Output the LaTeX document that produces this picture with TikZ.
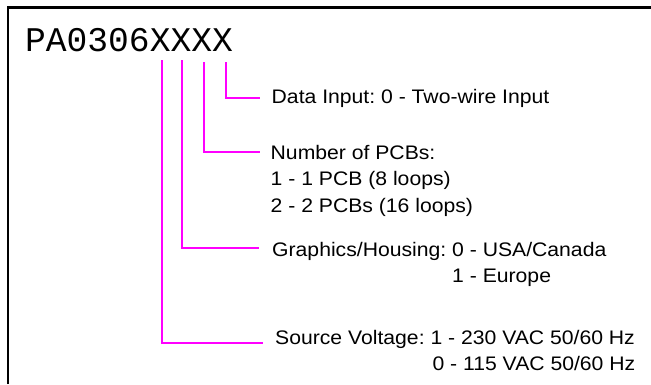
\documentclass[tikz,border=0pt]{standalone}
\usepackage{fontspec}
\setmainfont{Liberation Sans}
\newfontfamily\descfont[FakeStretch=1.08]{Liberation Sans}
\newfontfamily\partfont{Liberation Mono}
\definecolor{leadpink}{RGB}{255,0,255}
\usetikzlibrary{positioning}
\tikzset{
  lead/.style={draw=leadpink, line width=2pt},
  desc/.style={anchor=base west, inner sep=0pt, font={\descfont\fontsize{19.6}{26.5}\selectfont\frenchspacing}},
}

\begin{document}
\begin{tikzpicture}[x=1pt,y=1pt]
\useasboundingbox (0,0) rectangle (651,-384);
% frame, open to the right and bottom
\draw[line width=2.5pt] (8.2,-384) -- (8.2,-7.5) -- (651,-7.5);
% part number
\node[anchor=base west, inner sep=0pt, font={\partfont\fontsize{34.6}{40}\selectfont}] (part) at (25,-51) {PA0306XXXX};
% top ends of the leads, under the X digits
\coordinate (xa) at (162,-60);
\coordinate (xb) at (182,-60);
\coordinate (xc) at (204,-62);
\coordinate (xd) at (225.7,-62);

% option texts
\node[desc] (data) at (271.5,-103.3) {Data Input: 0 - Two-wire Input};
\node[desc] (pcbs) at (270.5,-159.3) {\begin{tabular}[t]{@{}l@{}}Number of PCBs:\\ 1 - 1 PCB (8 loops)\\ 2 - 2 PCBs (16 loops)\end{tabular}};
\node[desc] (housing) at (272,-256) {\begin{tabular}[t]{@{}l@{\ }l@{}}Graphics/Housing: & 0 - USA/Canada\\ & 1 - Europe\end{tabular}};
\node[desc] (voltage) at (275,-344) {\begin{tabular}[t]{@{}l@{\ }l@{}}Source Voltage: & 1 - 230 VAC 50/60 Hz\\ & \hspace*{2pt}0 - 115 VAC 50/60 Hz\end{tabular}};

% leads
\draw[lead] (xd) |- ([xshift=-11.5pt,yshift=5pt]data.base west);
\draw[lead] (xc) |- ([xshift=-10.5pt,yshift=7pt]pcbs.base west);
\draw[lead] (xb) |- ([xshift=-13pt,yshift=8.3pt]housing.base west);
\draw[lead] (xa) |- ([xshift=-12.3pt,yshift=1.3pt]voltage.base west);
\end{tikzpicture}
\end{document}
